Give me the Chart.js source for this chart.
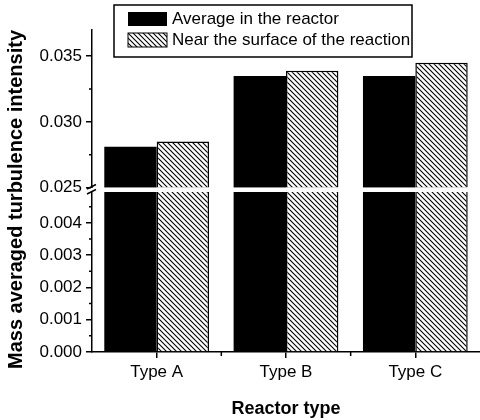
<!DOCTYPE html>
<html>
<head>
<meta charset="utf-8">
<script src="https://cdn.jsdelivr.net/npm/chart.js@4.4.0/dist/chart.umd.min.js"></script>
<style>
html, body { margin: 0; padding: 0; background: #fff; }
</style>
</head>
<body>
<canvas id="chart" width="480" height="420"></canvas>
<script>
var categories = ['Type A', 'Type B', 'Type C'];
var seriesNames = ['Average in the reactor', 'Near the surface of the reaction'];
var averageValues = [0.0281, 0.0335, 0.0335];
var surfaceValues = [0.0285, 0.0339, 0.0345];
var lowRange = [0, 0.0051];
var highRange = [0.025, 0.037];
var lowTicks = [0, 0.001, 0.002, 0.003, 0.004];
var lowMinorTicks = [0.0005, 0.0015, 0.0025, 0.0035, 0.0045];
var highTicks = [0.025, 0.030, 0.035];
var highMinorTicks = [0.0275, 0.0325];

var FONT = '"Liberation Sans", Arial, sans-serif';

function hatch() {
  var c = document.createElement('canvas');
  c.width = 5; c.height = 5;
  var g = c.getContext('2d');
  g.fillStyle = '#fff';
  g.fillRect(0, 0, 5, 5);
  g.strokeStyle = '#000';
  g.lineWidth = 1.1;
  g.beginPath();
  g.moveTo(-1, -1); g.lineTo(6, 6);
  g.moveTo(-1, 4); g.lineTo(1, 6);
  g.moveTo(4, -1); g.lineTo(6, 1);
  g.stroke();
  return g.createPattern(c, 'repeat');
}
var hatchFill = hatch();

// lower panel keeps the part up to the break, upper panel the rest
function lowPart(vals) {
  return vals.map(function (v) { return [lowRange[0], Math.min(v, lowRange[1])]; });
}
function highPart(vals) {
  return vals.map(function (v) { return [highRange[0], v]; });
}

var avgStyle = { backgroundColor: '#000', borderColor: '#000', borderWidth: 0 };
var surfStyle = { backgroundColor: hatchFill, borderColor: '#000', borderWidth: 1.5 };

function yScale(range, ticks, weight) {
  return {
    type: 'linear',
    position: 'left',
    stack: 'y',
    stackWeight: weight,
    stacked: false,
    min: range[0],
    max: range[1],
    afterBuildTicks: function (s) {
      s.ticks = ticks.map(function (v) { return { value: v }; });
    },
    afterFit: function (s) { s.width = 60; },
    ticks: {
      color: '#000',
      padding: 4,
      font: { family: FONT, size: 17 },
      callback: function (v) { return v.toFixed(3); }
    },
    grid: { drawOnChartArea: false, drawTicks: true, tickLength: 6, color: '#000', lineWidth: 1.5 },
    border: { display: true, color: '#000', width: 1.5 }
  };
}

var axisBreak = {
  id: 'axisBreak',
  afterDraw: function (chart) {
    var ctx = chart.ctx;
    var area = chart.chartArea;
    var low = chart.scales.yLow;
    var high = chart.scales.yHigh;
    var x = chart.scales.x;
    var by = low.top;
    ctx.save();
    // minor ticks
    ctx.strokeStyle = '#000';
    ctx.lineWidth = 1.5;
    ctx.beginPath();
    lowMinorTicks.forEach(function (v) {
      var y = low.getPixelForValue(v);
      ctx.moveTo(area.left - 3, y); ctx.lineTo(area.left, y);
    });
    highMinorTicks.forEach(function (v) {
      var y = high.getPixelForValue(v);
      ctx.moveTo(area.left - 3, y); ctx.lineTo(area.left, y);
    });
    for (var i = 1; i < categories.length; i++) {
      var px = (x.getPixelForValue(i - 1) + x.getPixelForValue(i)) / 2;
      ctx.moveTo(px, area.bottom); ctx.lineTo(px, area.bottom + 4);
    }
    ctx.stroke();
    // gap of the broken axis
    ctx.fillStyle = '#fff';
    ctx.fillRect(area.left - 1, by + 0.5, area.right - area.left + 2, 4);
    ctx.beginPath();
    ctx.moveTo(area.left - 5, by + 1.5); ctx.lineTo(area.left + 4, by - 3);
    ctx.moveTo(area.left - 5, by + 6.5); ctx.lineTo(area.left + 4, by + 2);
    ctx.stroke();
    // legend box
    var lx = 114, ly = 5, lw = 298, lh = 52;
    ctx.fillStyle = '#fff';
    ctx.fillRect(lx, ly, lw, lh);
    ctx.lineWidth = 1.5;
    ctx.strokeRect(lx, ly, lw, lh);
    var items = [chart.data.datasets[0], chart.data.datasets[2]];
    items.forEach(function (ds, k) {
      var sy = ly + 7 + k * 21;
      ctx.fillStyle = ds.backgroundColor;
      ctx.fillRect(lx + 14, sy, 39, 14);
      if (ds.borderWidth) {
        ctx.lineWidth = 1;
        ctx.strokeRect(lx + 14, sy, 39, 14);
      }
      ctx.fillStyle = '#000';
      ctx.font = '17px ' + FONT;
      ctx.textBaseline = 'middle';
      ctx.textAlign = 'left';
      ctx.fillText(ds.label, lx + 58, sy + 7.5);
    });
    ctx.restore();
  }
};

new Chart(document.getElementById('chart'), {
  type: 'bar',
  data: {
    labels: categories,
    datasets: [
      Object.assign({ label: seriesNames[0], data: lowPart(averageValues), yAxisID: 'yLow', stack: 'avg' }, avgStyle),
      Object.assign({ label: seriesNames[0], data: highPart(averageValues), yAxisID: 'yHigh', stack: 'avg' }, avgStyle),
      Object.assign({ label: seriesNames[1], data: lowPart(surfaceValues), yAxisID: 'yLow', stack: 'surf' }, surfStyle),
      Object.assign({ label: seriesNames[1], data: highPart(surfaceValues), yAxisID: 'yHigh', stack: 'surf' }, surfStyle)
    ]
  },
  options: {
    responsive: false,
    animation: false,
    devicePixelRatio: 1,
    layout: { padding: { top: 30, left: 0, right: 0, bottom: 0 } },
    datasets: { bar: { categoryPercentage: 0.81, barPercentage: 1, borderSkipped: 'start' } },
    plugins: {
      legend: { display: false },
      tooltip: { enabled: false },
      title: {
        display: true,
        position: 'left',
        align: 'end',
        text: 'Mass averaged turbulence intensity',
        color: '#000',
        padding: 4,
        font: { family: FONT, size: 20, weight: 'bold' }
      }
    },
    scales: {
      x: {
        stacked: true,
        offset: true,
        ticks: { color: '#000', padding: 4, font: { family: FONT, size: 17 } },
        grid: { offset: false, drawOnChartArea: false, drawTicks: true, tickLength: 6, color: '#000', lineWidth: 1.5 },
        border: { display: true, color: '#000', width: 1.5 },
        title: {
          display: true,
          text: 'Reactor type',
          color: '#000',
          padding: { top: 12, bottom: 0 },
          font: { family: FONT, size: 18, weight: 'bold' }
        }
      },
      yLow: yScale(lowRange, lowTicks, 164),
      yHigh: yScale(highRange, highTicks, 157)
    }
  },
  plugins: [axisBreak]
});
</script>
</body>
</html>
